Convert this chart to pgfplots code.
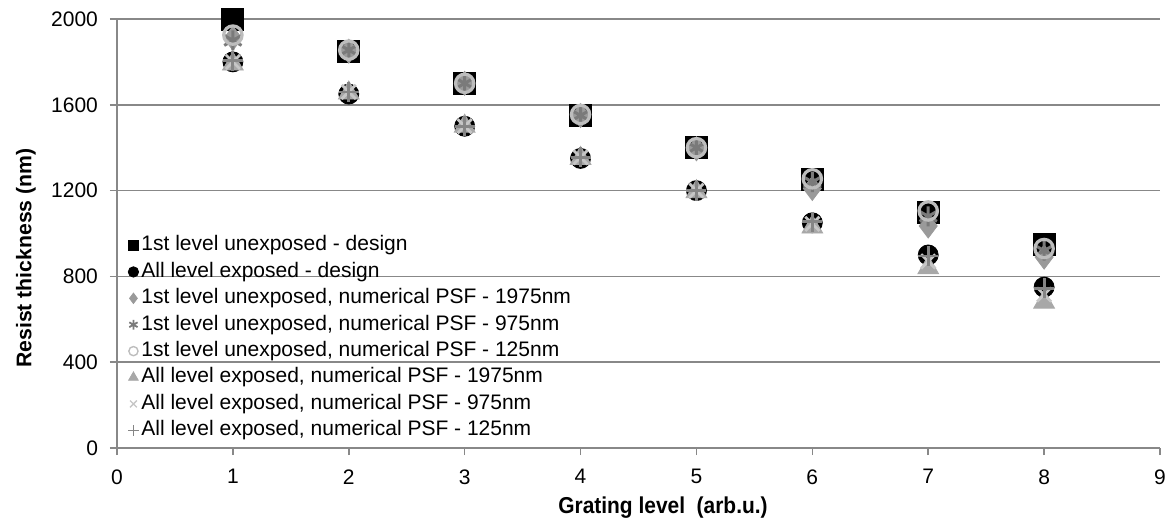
\documentclass[border=0pt]{standalone}
\usepackage{fontspec}
\setmainfont{Liberation Sans}
\usepackage{graphicx}
\usepackage{pgfplots}
\pgfplotsset{compat=1.18}
\definecolor{gridgray}{HTML}{888888}
\definecolor{cDia}{HTML}{9A9A9A}
\definecolor{cStar}{HTML}{7A7A7A}
\definecolor{cOc}{HTML}{BDBDBD}
\definecolor{cTri}{HTML}{A8A8A8}
\definecolor{cX}{HTML}{C6C6C6}
\definecolor{cPlus}{HTML}{858585}
\begin{document}
\begin{tikzpicture}
\begin{axis}[name=a,
  scale only axis, width=521.5pt, height=214.5pt,
  xmin=0, xmax=9, ymin=0, ymax=2000,
  xtick={0,...,9}, ytick={0,400,...,2000},
  axis x line=bottom, axis y line=left,
  axis line style={gridgray, -, line width=0.8pt},
  ymajorgrids, major grid style={gridgray, line width=0.8pt},
  tick style={gridgray, line width=0.8pt},
  major tick length=3.5pt,
  tick align=outside,
  /pgf/number format/assume math mode=true,
  /pgf/number format/1000 sep={},
  ticklabel style={font=\fontsize{10.5}{12}\selectfont},
  xticklabel style={anchor=north, yshift=-6pt, inner sep=1pt},
  yticklabel style={xshift=-2.5pt},
  xlabel={\scalebox{0.91}[1]{\textbf{Grating level\ \ (arb.u.)}}},
  ylabel={\textbf{Resist thickness (nm)}},
  every axis x label/.style={at={([xshift=12.25pt,yshift=-30pt]rel axis cs:0.5,0)}, anchor=center, inner sep=0pt, font=\fontsize{11.5}{13}\selectfont},
  every axis y label/.style={at={([xshift=-45.5pt,yshift=-12.25pt]rel axis cs:0,0.5)}, anchor=center, inner sep=0pt, rotate=90, font=\fontsize{10.6}{12}\selectfont},
  clip=false,
  legend cell align=left,
  legend style={at={(0.0077,0.4976)}, anchor=north west, draw=none, fill=none,
    font=\fontsize{10.5}{12}\selectfont, row sep=2.6pt, inner sep=0pt,
    nodes={inner sep=0pt, text height=8pt, text depth=2.6pt}},
  legend image code/.code={\path[draw=none,fill=none] (0pt,0pt) -- (8pt,0pt); \draw[#1] plot coordinates {(4pt,0pt)};},
]
% 1st level unexposed - design
\addplot[only marks, mark=square*, mark size=5.5pt, black, forget plot] coordinates {
(1,2000) (2,1850) (3,1700) (4,1550) (5,1400) (6,1250) (7,1100) (8,950)};
% All level exposed - design
\addplot[only marks, mark=*, mark size=5pt, black, forget plot] coordinates {
(1,1800) (2,1650) (3,1500) (4,1350) (5,1200) (6,1050) (7,900) (8,750)};
% 1st level unexposed PSF 1975 (diamond)
\addplot[only marks, mark=diamond*, mark size=6pt, cDia, forget plot] coordinates {
(1,1910) (2,1850) (3,1700) (4,1550) (5,1395) (6,1210) (7,1035) (8,890)};
% 1st level unexposed PSF 975 (star)
\addplot[only marks, mark=asterisk, mark size=5pt, line width=1.5pt, cStar, forget plot] coordinates {
(1,1900) (2,1855) (3,1700) (4,1550) (5,1400) (6,1240) (7,1080) (8,920)};
% 1st level unexposed PSF 125 (open circle)
\addplot[only marks, mark=o, mark size=4.6pt, line width=1.6pt, cOc, forget plot] coordinates {
(1,1925) (2,1855) (3,1700) (4,1555) (5,1400) (6,1255) (7,1105) (8,930)};
% All level exposed PSF 1975 (triangle)
\addplot[only marks, mark=triangle*, mark size=6pt, cTri, forget plot] coordinates {
(1,1790) (2,1655) (3,1500) (4,1350) (5,1195) (6,1030) (7,840) (8,680)};
% All level exposed PSF 975 (x)
\addplot[only marks, mark=x, mark size=5pt, line width=1.4pt, cX, forget plot] coordinates {
(1,1800) (2,1660) (3,1500) (4,1355) (5,1200) (6,1045) (7,870) (8,715)};
% All level exposed PSF 125 (+)
\addplot[only marks, mark=+, mark size=5pt, line width=1.4pt, cPlus, forget plot] coordinates {
(1,1805) (2,1660) (3,1500) (4,1355) (5,1200) (6,1055) (7,895) (8,745)};

\addlegendimage{only marks, mark=square*, mark size=2.5pt, black}
\addlegendentry{1st level unexposed - design}
\addlegendimage{only marks, mark=*, mark size=2.6pt, black}
\addlegendentry{All level exposed - design}
\addlegendimage{only marks, mark=diamond*, mark size=2.6pt, cDia}
\addlegendentry{1st level unexposed, numerical PSF - 1975nm}
\addlegendimage{only marks, mark=asterisk, mark size=2.4pt, line width=0.9pt, cStar}
\addlegendentry{1st level unexposed, numerical PSF - 975nm}
\addlegendimage{only marks, mark=o, mark size=2.3pt, line width=0.7pt, cOc}
\addlegendentry{1st level unexposed, numerical PSF - 125nm}
\addlegendimage{only marks, mark=triangle*, mark size=2.8pt, cTri}
\addlegendentry{All level exposed, numerical PSF - 1975nm}
\addlegendimage{only marks, mark=x, mark size=2.4pt, line width=0.7pt, cX}
\addlegendentry{All level exposed, numerical PSF - 975nm}
\addlegendimage{only marks, mark=+, mark size=2.6pt, line width=0.7pt, cPlus}
\addlegendentry{All level exposed, numerical PSF - 125nm}
\end{axis}
\pgfresetboundingbox
\path ([shift={(-58.5pt,-35.5pt)}]a.south west) rectangle ([shift={(2.5pt,9.5pt)}]a.north east);
\end{tikzpicture}
\end{document}
